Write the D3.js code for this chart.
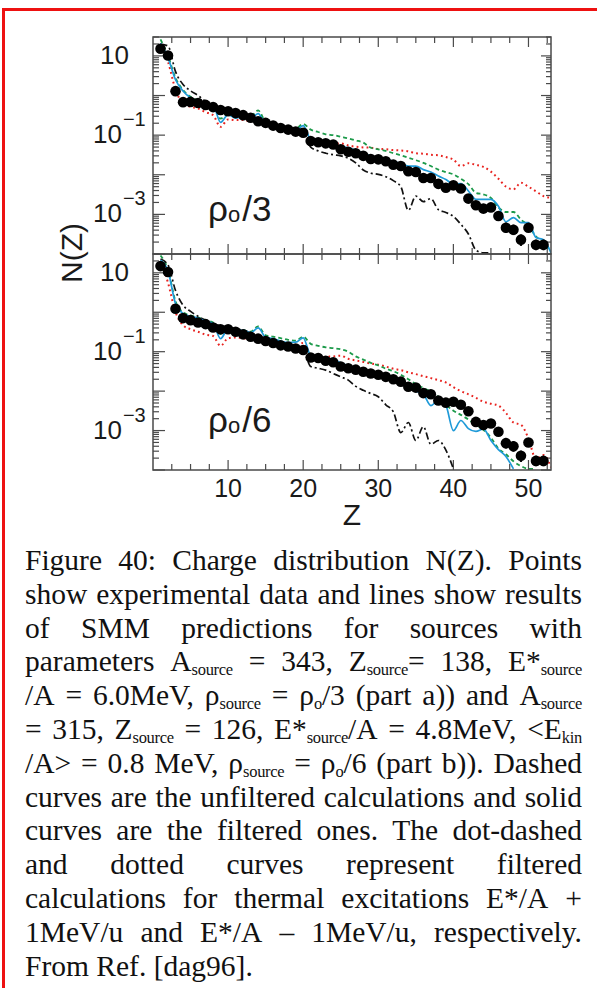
<!DOCTYPE html>
<html><head><meta charset="utf-8">
<script src="https://cdn.jsdelivr.net/npm/d3@7"></script>
<style>body{margin:0;background:#fff}svg{display:block}</style>
</head><body>
<svg id="c" width="597" height="988"></svg>
<script>
// ---------- DATA ----------
const zValues = [1,2,3,4,5,6,7,8,9,10,11,12,13,14,15,16,17,18,19,20,21,22,23,24,25,26,27,28,29,30,31,32,33,34,35,36,37,38,39,40,41,42,43,44,45,46,47,48,49,50,51,52,53];

// panel a (rho0/3)
const expTop = [15.1,10.2,1.29,0.68,0.69,0.65,0.58,0.51,0.43,0.40,0.36,0.32,0.275,0.224,0.204,0.174,0.151,0.138,0.123,0.115,0.071,0.066,0.062,0.058,0.044,0.038,0.035,0.030,0.025,0.0245,0.022,0.018,0.0166,0.0123,0.0117,0.0083,0.0083,0.0059,0.0047,0.0054,0.0045,0.0025,0.0017,0.0014,0.0015,0.00091,0.00046,0.00041,0.00023,0.00046,0.00017,0.00017];
const filteredTop = [20.9,8.9,2.5,1.3,0.87,0.69,0.50,0.55,0.21,0.33,0.27,0.30,0.26,0.35,0.19,0.174,0.151,0.138,0.126,0.174,0.076,0.063,0.060,0.056,0.052,0.048,0.042,0.035,0.030,0.025,0.024,0.022,0.019,0.0166,0.0166,0.0135,0.0117,0.0093,0.0076,0.0058,0.006,0.0039,0.0024,0.0024,0.0024,0.0016,0.00065,0.00083,0.00062,0.00062,0.00026,0.00023,0.000107];
const unfilteredTop = [26,10,2.8,1.38,0.93,0.74,0.56,0.58,0.26,0.35,0.30,0.32,0.30,0.42,0.22,0.195,0.17,0.155,0.148,0.19,0.138,0.12,0.105,0.10,0.091,0.083,0.074,0.065,0.048,0.044,0.040,0.035,0.031,0.027,0.0234,0.020,0.0166,0.0135,0.0117,0.0102,0.0079,0.0058,0.0035,0.0032,0.0026,0.0015,0.00115,0.00115,0.00074,0.00051,0.00028,0.00019,0.00012];
const plusOneTop = [20,17.8,4.0,1.9,1.32,1.0,0.71,0.56,0.38,0.35,0.32,0.30,0.26,0.25,0.20,0.166,0.145,0.132,0.12,0.112,0.050,0.040,0.035,0.032,0.030,0.026,0.020,0.0132,0.011,0.0102,0.0089,0.0071,0.0050,0.00126,0.0029,0.0021,0.0025,0.00132,0.00112,0.00089,0.00056,0.00032,0.000126,0.000107,0.000107];
const minusOneTop = [20,7.1,1.41,0.63,0.52,0.47,0.38,0.32,0.162,0.25,0.24,0.24,0.224,0.25,0.18,0.17,0.158,0.145,0.141,0.151,0.078,0.068,0.065,0.060,0.062,0.055,0.051,0.049,0.048,0.045,0.044,0.042,0.041,0.039,0.035,0.034,0.032,0.031,0.028,0.024,0.0166,0.0195,0.0178,0.0158,0.012,0.0079,0.005,0.0043,0.0063,0.005,0.0038,0.0029,0.0026];

// panel b (rho0/6)
const expBot = [14.8,10.5,1.23,0.71,0.63,0.55,0.50,0.41,0.37,0.37,0.32,0.275,0.24,0.214,0.186,0.166,0.145,0.135,0.12,0.11,0.071,0.069,0.059,0.054,0.042,0.038,0.035,0.031,0.028,0.026,0.023,0.020,0.0174,0.0129,0.0123,0.0089,0.0083,0.0058,0.0051,0.0054,0.0045,0.0031,0.00166,0.00138,0.00151,0.00093,0.00048,0.00040,0.00023,0.0005,0.00017,0.00017];
const filteredBot = [20.9,11.2,1.66,0.93,0.79,0.71,0.60,0.52,0.214,0.38,0.34,0.35,0.30,0.40,0.234,0.214,0.186,0.17,0.174,0.224,0.079,0.069,0.066,0.063,0.052,0.044,0.036,0.030,0.026,0.024,0.021,0.019,0.0174,0.012,0.010,0.0083,0.0043,0.0058,0.0043,0.001,0.0018,0.00112,0.00095,0.0011,0.00056,0.00033,0.00022,0.000107];
const unfilteredBot = [27.5,12,1.9,1.0,0.83,0.74,0.63,0.55,0.28,0.40,0.35,0.35,0.32,0.44,0.26,0.24,0.22,0.20,0.19,0.24,0.158,0.141,0.129,0.123,0.115,0.10,0.076,0.063,0.052,0.045,0.037,0.032,0.026,0.020,0.015,0.012,0.0098,0.0072,0.0045,0.0032,0.0025,0.0019,0.0014,0.00105,0.00066,0.00035,0.00025,0.000166,0.000126,0.000107,0.000107];
const plusOneBot = [22.4,15.8,3.55,1.51,1.05,0.79,0.63,0.52,0.45,0.42,0.38,0.35,0.30,0.25,0.21,0.182,0.158,0.141,0.126,0.11,0.042,0.038,0.034,0.028,0.023,0.019,0.0132,0.0105,0.0087,0.0072,0.0045,0.003,0.00089,0.0016,0.00056,0.00126,0.00045,0.00056,0.00032,0.000107];
const minusOneBot = [20,5.6,1.0,0.47,0.37,0.32,0.27,0.25,0.141,0.22,0.23,0.22,0.21,0.23,0.17,0.162,0.155,0.145,0.141,0.166,0.079,0.071,0.074,0.076,0.079,0.066,0.060,0.055,0.050,0.047,0.042,0.037,0.034,0.030,0.027,0.024,0.0214,0.019,0.0166,0.0126,0.010,0.0083,0.0068,0.0054,0.0048,0.0043,0.0028,0.0016,0.0014,0.00063,0.00019,0.00024,0.000117];

// error bars (Z, low, high)
const errZ = [47,48,49,51,52];
const errLoTop = [0.00034,0.00030,0.00016,0.000125,0.000125];
const errHiTop = [0.00062,0.00055,0.00031,0.00023,0.00023];
const errLoBot = [0.00035,0.00029,0.00016,0.000125,0.000125];
const errHiBot = [0.00065,0.00054,0.00031,0.00023,0.00023];

// axes
const xMajorTicks = [10,20,30,40,50];
const xTickLabels = ["10","20","30","40","50"];
const xMinorTicks = [2.5,5,7.5,12.5,15,17.5,22.5,25,27.5,32.5,35,37.5,42.5,45,47.5,52.5];
const yLabelValues = [10,0.1,0.001];
const yLabelExp = ["","−1","−3"];
const panelLabels = ["3","6"];

const captionLines = [
  "Figure 40: Charge distribution N(Z). Points",
  "show experimental data and lines show results",
  "of SMM predictions for sources with",
  "parameters A_{source} = 343, Z_{source}= 138, E*_{source}",
  "/A = 6.0MeV, ρ_{source} = ρ_{o}/3 (part a)) and A_{source}",
  "= 315, Z_{source} = 126, E*_{source}/A = 4.8MeV, <E_{kin}",
  "/A> = 0.8 MeV, ρ_{source} = ρ_{o}/6 (part b)). Dashed",
  "curves are the unfiltered calculations and solid",
  "curves are the filtered ones. The dot-dashed",
  "and dotted curves represent filtered",
  "calculations for thermal excitations E*/A +",
  "1MeV/u and E*/A – 1MeV/u, respectively.",
  "From Ref. [dag96]."
];

// ---------- DRAW ----------
const svg = d3.select('#c');
const SANS = "'Liberation Sans', Arial, Helvetica, sans-serif";

// red border
svg.append('path').attr('d','M3.5,988 V9.5 H597').attr('fill','none').attr('stroke','#ee1111').attr('stroke-width',3);

const x = d3.scaleLinear().domain([0,53]).range([153,551]);
const panels = [
  {y0:37, y1:254, exp:expTop, fil:filteredTop, unf:unfilteredTop, p1:plusOneTop, m1:minusOneTop, lo:errLoTop, hi:errHiTop, lab:panelLabels[0], labY:221},
  {y0:254, y1:470, exp:expBot, fil:filteredBot, unf:unfilteredBot, p1:plusOneBot, m1:minusOneBot, lo:errLoBot, hi:errHiBot, lab:panelLabels[1], labY:432}
];

const axisCol = '#4a4a4a';
panels.forEach((p,pi)=>{
  const y = d3.scaleLog().domain([1e-4,30]).range([p.y1,p.y0]);
  const g = svg.append('g');
  const cid = 'clip'+pi;
  svg.append('clipPath').attr('id',cid).append('rect')
    .attr('x',x(0)).attr('y',p.y0).attr('width',x(53)-x(0)).attr('height',p.y1-p.y0);

  // ticks
  const tk = g.append('g').attr('stroke',axisCol).attr('stroke-width',1.2);
  xMinorTicks.concat(xMajorTicks).forEach(v=>{
    const L = xMajorTicks.includes(v)?10:6;
    tk.append('line').attr('x1',x(v)).attr('x2',x(v)).attr('y1',p.y1).attr('y2',p.y1-L);
    tk.append('line').attr('x1',x(v)).attr('x2',x(v)).attr('y1',p.y0).attr('y2',p.y0+L);
  });
  y.ticks().forEach(v=>{
    const lg = Math.log10(v);
    const major = Math.abs(lg-Math.round(lg))<1e-6;
    const L = major?12:6;
    tk.append('line').attr('x1',x(0)).attr('x2',x(0)+L).attr('y1',y(v)).attr('y2',y(v));
    tk.append('line').attr('x1',x(53)).attr('x2',x(53)-(major?10:5)).attr('y1',y(v)).attr('y2',y(v));
  });

  // y labels
  yLabelValues.forEach((v,i)=>{
    const t = g.append('text').attr('font-family',SANS).attr('font-size',26).attr('fill','#1a1a1a');
    if(yLabelExp[i]===""){
      t.attr('x',129).attr('y',y(v)+8).attr('text-anchor','end').text('10');
    } else {
      t.attr('x',93).attr('y',y(v)+8);
      t.append('tspan').text('10');
      t.append('tspan').attr('font-size',20).attr('dx',1).attr('dy',-17).text(yLabelExp[i]);
    }
  });

  const gc = g.append('g').attr('clip-path',`url(#${cid})`);
  const line = d3.line().x((d,i)=>x(zValues[i])).y(d=>y(d)).curve(d3.curveMonotoneX);
  gc.append('path').datum(p.m1).attr('d',line).attr('fill','none').attr('stroke','#e8231f').attr('stroke-width',2).attr('stroke-dasharray','1.8,3.2');
  gc.append('path').datum(p.unf).attr('d',line).attr('fill','none').attr('stroke','#1c9a4a').attr('stroke-width',1.8).attr('stroke-dasharray','4,3');
  gc.append('path').datum(p.p1).attr('d',line).attr('fill','none').attr('stroke','#111').attr('stroke-width',1.7).attr('stroke-dasharray','7,3,2,3');
  gc.append('path').datum(p.fil).attr('d',line).attr('fill','none').attr('stroke','#1f9ad8').attr('stroke-width',1.7);

  // error bars
  errZ.forEach((z,i)=>{
    gc.append('line').attr('x1',x(z)).attr('x2',x(z)).attr('y1',y(p.lo[i])).attr('y2',y(p.hi[i]))
      .attr('stroke','#000').attr('stroke-width',2.2);
  });
  // points
  gc.selectAll('circle.pt').data(p.exp).enter().append('circle').attr('class','pt')
    .attr('cx',(d,i)=>x(zValues[i])).attr('cy',d=>y(d)).attr('r',5.3).attr('fill','#000');

  // frame
  g.append('rect').attr('x',x(0)).attr('y',p.y0).attr('width',x(53)-x(0)).attr('height',p.y1-p.y0)
    .attr('fill','none').attr('stroke',axisCol).attr('stroke-width',1.5);

  // panel label rho_0 / n
  const pl = g.append('text').attr('x',208).attr('y',p.labY).attr('font-family',SANS).attr('font-size',35).attr('fill','#1a1a1a');
  pl.append('tspan').text('ρ');
  pl.append('tspan').attr('font-size',22).attr('dy',1).text('o');
  pl.append('tspan').attr('dy',-1).attr('dx',2).text('/'+p.lab);
});

// x tick labels
xMajorTicks.forEach((v,i)=>{
  svg.append('text').attr('x',x(v)).attr('y',497).attr('text-anchor','middle')
    .attr('font-family',SANS).attr('font-size',25).attr('fill','#1a1a1a').text(xTickLabels[i]);
});
// axis titles
svg.append('text').attr('x',352).attr('y',525).attr('text-anchor','middle')
  .attr('font-family',SANS).attr('font-size',30).attr('fill','#1a1a1a').text('Z');
svg.append('text').attr('transform','translate(82,253) rotate(-90)').attr('text-anchor','middle')
  .attr('font-family',SANS).attr('font-size',30).attr('fill','#1a1a1a').text('N(Z)');

// caption (justified)
const capG = svg.append('g').attr('font-family',"'Liberation Serif','Times New Roman',serif").attr('font-size',29.5).attr('fill','#111');
const capLeft = 25, capRight = 582, capY0 = 570, capDY = 33.8;
captionLines.forEach((ln,li)=>{
  const yb = capY0 + li*capDY;
  const words = ln.split(/\s+/);
  const nodes = words.map(w=>{
    const t = capG.append('text').attr('y',yb);
    const parts = w.split(/(_\{[^}]*\})/).filter(s=>s.length);
    let off = 0;
    parts.forEach(pt=>{
      const m = pt.match(/^_\{([^}]*)\}$/);
      if(m){
        t.append('tspan').attr('font-size',16.5).attr('letter-spacing',-0.3).attr('dy',4-off).text(m[1]); off = 4;
      } else {
        t.append('tspan').attr('dy',0-off).text(pt); off = 0;
      }
    });
    return t;
  });
  const widths = nodes.map(n=>n.node().getComputedTextLength());
  const total = d3.sum(widths);
  const last = li===captionLines.length-1;
  const avail = capRight-capLeft;
  let gap = (!last && words.length>1) ? (avail-total)/(words.length-1) : 7.4;
  let sx = 1;
  if (gap < 4 && !last) {
    // squeeze slightly if the natural width is too large
    gap = 4;
    sx = (avail - gap*(words.length-1)) / total;
  }
  let cx = capLeft;
  nodes.forEach((n,i)=>{
    if (sx !== 1) n.attr('transform',`translate(${cx},0) scale(${sx},1)`).attr('x',0);
    else n.attr('x',cx);
    cx += widths[i]*sx+gap;
  });
});
</script>
</body></html>
